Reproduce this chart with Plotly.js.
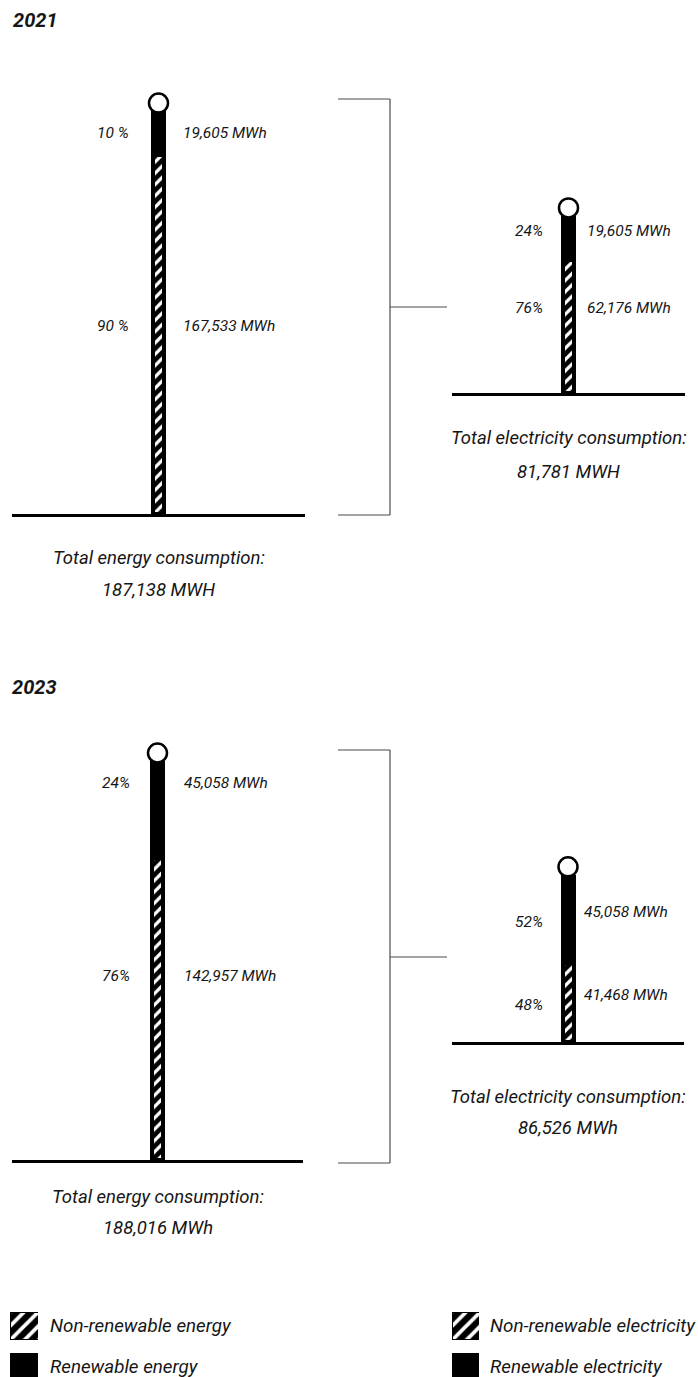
<!DOCTYPE html>
<html>
<head>
<meta charset="utf-8">
<script src="https://cdn.plot.ly/plotly-3.0.1.min.js"></script>
<style>
  html, body { margin: 0; padding: 0; background: #ffffff; }
  #chart { width: 698px; height: 1377px; }
</style>
</head>
<body>
<div id="chart"></div>
<script>
// ---- data ----
const years = ['2021', '2023'];
const energyRenewable = [19605, 45058];
const energyNonRenewable = [167533, 142957];
const energyTotals = [187138, 188016];
const energyRenewablePct = ['10 %', '24%'];
const energyNonRenewablePct = ['90 %', '76%'];
const electricityRenewable = [19605, 45058];
const electricityNonRenewable = [62176, 41468];
const electricityTotals = [81781, 86526];
const electricityRenewablePct = ['24%', '52%'];
const electricityNonRenewablePct = ['76%', '48%'];
const totalUnits = ['MWH', 'MWh'];
const legendRows = ['Non-renewable', 'Renewable'];
const legendEnergyText = ['Non-renewable energy', 'Renewable energy'];
const legendElectricityText = ['Non-renewable electricity', 'Renewable electricity'];

// ---- page geometry helpers ----
const W = 698, H = 1377;
const px = v => v / W;
const py = v => 1 - v / H;
const FONT = 'Roboto, "Open Sans", sans-serif';
const INK = '#161616';
const fmt = v => v.toLocaleString('en-US');

// one panel per thermometer: plot area in page pixels, y-axis max and text rows
const panels = [
  { kind: 'energy', yr: 0, left: 12, right: 305, top: 90, bottom: 514, ymax: 197900,
    pctX: 131, valX: 181, renPctY: 133, nonPctY: 326, renValY: 133, nonValY: 326, totY: [558, 590],
    bracket: { top: 99, mid: 307, bottom: 515 } },
  { kind: 'electricity', yr: 0, left: 452, right: 685, top: 190, bottom: 393, ymax: 94800,
    pctX: 545, valX: 585, renPctY: 231, nonPctY: 308, renValY: 231, nonValY: 308, totY: [438, 472] },
  { kind: 'energy', yr: 1, left: 12, right: 303, top: 740, bottom: 1160, ymax: 198900,
    pctX: 132, valX: 182, renPctY: 783, nonPctY: 976, renValY: 783, nonValY: 976, totY: [1197, 1228],
    bracket: { top: 750, mid: 957, bottom: 1163 } },
  { kind: 'electricity', yr: 1, left: 452, right: 684, top: 850, bottom: 1042, ymax: 100600,
    pctX: 545, valX: 582, renPctY: 922, nonPctY: 1005, renValY: 912, nonValY: 995, totY: [1097, 1128] }
];

const hatch = { shape: '/', fgcolor: '#ffffff', bgcolor: '#000000', size: 8, solidity: 0.4 };
const data = [];
const shapes = [];
const annotations = [];
const layout = {
  width: W, height: H,
  margin: { l: 0, r: 0, t: 0, b: 0 },
  paper_bgcolor: '#ffffff', plot_bgcolor: 'rgba(0,0,0,0)',
  barmode: 'stack', showlegend: false,
  font: { family: FONT, color: INK }
};

function text(str, x, y, size, xanchor, weight) {
  annotations.push({
    text: str, xref: 'paper', yref: 'paper', x: px(x), y: py(y),
    xanchor: xanchor, yanchor: 'middle', showarrow: false,
    font: { family: FONT, size: size, color: INK, style: 'italic', weight: weight || 400 }
  });
}

panels.forEach((p, i) => {
  const n = i + 1;
  const xa = 'x' + (n === 1 ? '' : n), ya = 'y' + (n === 1 ? '' : n);
  const isEnergy = p.kind === 'energy';
  const ren = (isEnergy ? energyRenewable : electricityRenewable)[p.yr];
  const non = (isEnergy ? energyNonRenewable : electricityNonRenewable)[p.yr];
  const total = (isEnergy ? energyTotals : electricityTotals)[p.yr];
  const cat = isEnergy ? 'Energy' : 'Electricity';
  const barW = 11 / ((p.right - p.left) / 2);

  data.push({
    type: 'bar', x: [cat], y: [non], xaxis: xa, yaxis: ya, width: barW,
    marker: { color: '#000000', pattern: hatch, line: { color: '#000000', width: 4 } },
    hoverinfo: 'skip'
  });
  data.push({
    type: 'bar', x: [cat], y: [ren], xaxis: xa, yaxis: ya, width: barW,
    marker: { color: '#000000', line: { color: '#000000', width: 4 } },
    hoverinfo: 'skip'
  });

  layout['xaxis' + (n === 1 ? '' : n)] = {
    domain: [px(p.left), px(p.right)], anchor: ya, type: 'category', range: [-1, 1],
    showline: true, linecolor: '#000000', linewidth: 3, showgrid: false, zeroline: false,
    showticklabels: false, ticks: '', fixedrange: true
  };
  layout['yaxis' + (n === 1 ? '' : n)] = {
    domain: [py(p.bottom), py(p.top)], anchor: xa, range: [0, p.ymax],
    visible: false, fixedrange: true
  };

  // bulb sitting on top of the column
  shapes.push({
    type: 'circle', xref: xa, yref: ya, xsizemode: 'pixel', ysizemode: 'pixel',
    xanchor: cat, yanchor: ren + non, x0: -9.5, x1: 9.5, y0: 0.5, y1: 19.5,
    line: { color: '#000000', width: 2.5 }, fillcolor: '#ffffff', layer: 'above'
  });

  const renPct = (isEnergy ? energyRenewablePct : electricityRenewablePct)[p.yr];
  const nonPct = (isEnergy ? energyNonRenewablePct : electricityNonRenewablePct)[p.yr];
  text(renPct, p.pctX, p.renPctY, 15.5, 'right');
  text(nonPct, p.pctX, p.nonPctY, 15.5, 'right');
  text(fmt(ren) + ' MWh', p.valX, p.renValY, 15.5, 'left');
  text(fmt(non) + ' MWh', p.valX, p.nonValY, 15.5, 'left');

  const cx = (p.left + p.right) / 2;
  const head = isEnergy ? 'Total energy consumption:' : 'Total electricity consumption:';
  text(head, cx, p.totY[0], 18.5, 'center');
  text(fmt(total) + ' ' + totalUnits[p.yr], cx, p.totY[1], 18.5, 'center');

  // bracket linking total energy to the electricity share
  if (p.bracket) {
    const b = p.bracket;
    const line = { color: '#4a4a4a', width: 1.2 };
    const seg = (x0, y0, x1, y1) => shapes.push({
      type: 'line', xref: 'paper', yref: 'paper',
      x0: px(x0), y0: py(y0), x1: px(x1), y1: py(y1), line: line
    });
    seg(338, b.top, 390, b.top);
    seg(390, b.top, 390, b.bottom);
    seg(338, b.bottom, 390, b.bottom);
    seg(390, b.mid, 447, b.mid);
  }
});

// year headings
text(years[0], 11, 20, 20, 'left', 700);
text(years[1], 10, 687, 20, 'left', 700);

// key: swatches drawn as bars in two small panels
const keyTop = 1312, rowStep = 41, sw = 27;
const keyRange = [(H - (keyTop + sw / 2)) / rowStep, -(sw / 2) / rowStep];
[[10, 38, legendEnergyText, 48], [452, 479, legendElectricityText, 488]].forEach((k, j) => {
  const n = 5 + j;
  data.push({
    type: 'bar', orientation: 'h', y: legendRows, x: legendRows.map(() => 1),
    xaxis: 'x' + n, yaxis: 'y' + n, width: sw / rowStep,
    marker: {
      color: '#000000',
      pattern: { shape: ['/', ''], fgcolor: '#ffffff', bgcolor: '#000000', size: 10, solidity: 0.38 },
      line: { color: '#000000', width: 1 }
    },
    hoverinfo: 'skip'
  });
  layout['xaxis' + n] = { domain: [px(k[0]), px(k[1])], anchor: 'y' + n, range: [0, 1], visible: false, fixedrange: true };
  layout['yaxis' + n] = { domain: [0, py(keyTop)], anchor: 'x' + n, type: 'category', range: keyRange, visible: false, fixedrange: true };
  text(k[2][0], k[3], keyTop + sw / 2, 18.8, 'left');
  text(k[2][1], k[3], keyTop + rowStep + sw / 2, 18.8, 'left');
});

layout.shapes = shapes;
layout.annotations = annotations;

Plotly.newPlot('chart', data, layout, { staticPlot: true, displayModeBar: false });
</script>
</body>
</html>
